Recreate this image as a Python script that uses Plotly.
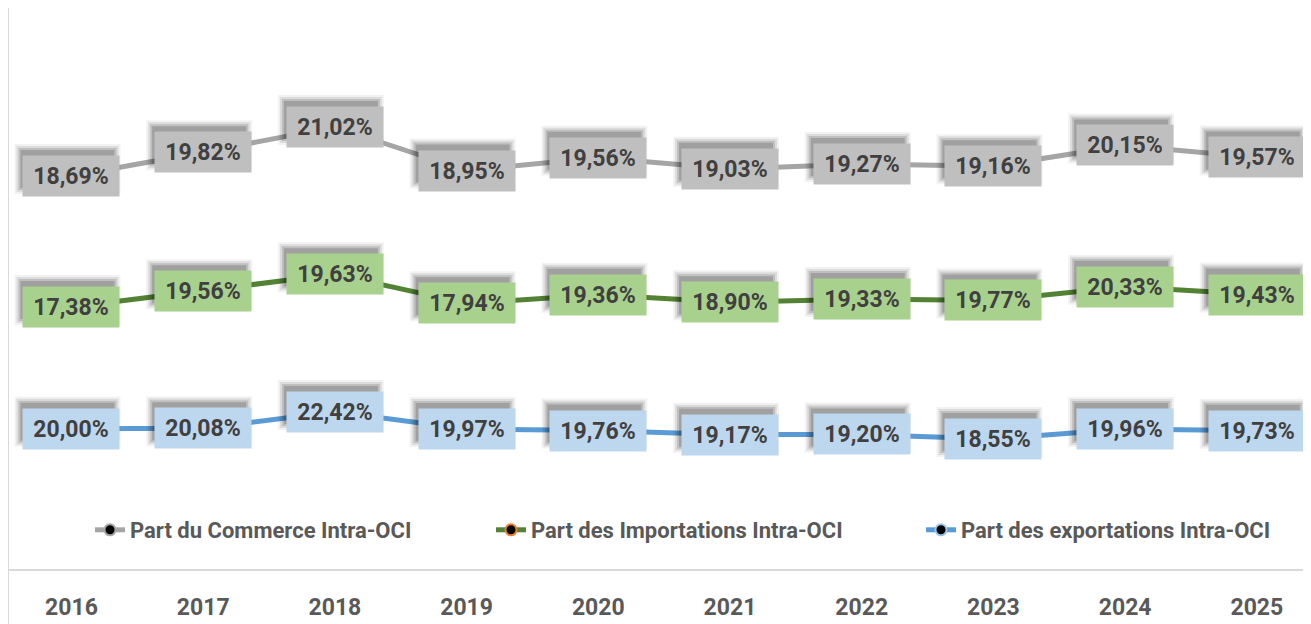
import plotly.graph_objects as go

years = ["2016", "2017", "2018", "2019", "2020", "2021", "2022", "2023", "2024", "2025"]
exports_share = [20.00, 20.08, 22.42, 19.97, 19.76, 19.17, 19.20, 18.55, 19.96, 19.73]
imports_share = [17.38, 19.56, 19.63, 17.94, 19.36, 18.90, 19.33, 19.77, 20.33, 19.43]
commerce_share = [18.69, 19.82, 21.02, 18.95, 19.56, 19.03, 19.27, 19.16, 20.15, 19.57]

series = [
    ("Part des exportations Intra-OCI", exports_share, "#5B9BD5", "#9DC3E6", "#BDD7EE", "legend3"),
    ("Part des Importations Intra-OCI", imports_share, "#548235", "#ED7D31", "#A9D18E", "legend2"),
    ("Part du Commerce Intra-OCI", commerce_share, "#A5A5A5", "#A5A5A5", "#BFBFBF", "legend"),
]

def fmt(v):
    return "<b>" + f"{v:.2f}".replace(".", ",") + "%</b>"

fig = go.Figure()
cum = [0.0] * len(years)
shadow_shapes = []
label_ann = []
for name, vals, lc, mc, bg, lg in series:
    fig.add_trace(go.Scatter(
        x=years, y=vals, name=f"<b>{name}</b>", stackgroup="s", fill="none",
        mode="lines+markers", legend=lg,
        line=dict(color=lc, width=5),
        marker=dict(color="black", size=11, line=dict(color=mc, width=2)),
        hoverinfo="skip",
    ))
    cum = [c + v for c, v in zip(cum, vals)]
    for i, (x, y, v) in enumerate(zip(years, cum, vals)):
        for (d, a) in [(5, 0.05), (3, 0.09), (1, 0.13), (-1, 0.16)]:
            shadow_shapes.append(dict(
                type="rect", xref="x", yref="y", xsizemode="pixel", ysizemode="pixel",
                xanchor=i, yanchor=y,
                x0=-48 - 4 - d, x1=48 - 4 + d, y0=-20 + 7 - d, y1=20 + 7 + d,
                fillcolor=f"rgba(0,0,0,{a})", line=dict(width=0), layer="above",
            ))
        label_ann.append(dict(
            x=i, y=y, xref="x", yref="y", text=fmt(v), showarrow=False,
            width=96, height=40, bgcolor=bg, borderpad=0,
            font=dict(family="Roboto", size=23, color="#404040"),
        ))

plot_h = 561
W = 1311
leg_y = (plot_h - 522) / plot_h
def leg(text_start):
    return dict(
        orientation="h", x=(text_start - 6 - 42) / W, xanchor="left", y=leg_y, yanchor="middle",
        font=dict(family="Roboto", size=22, color="#595959"),
        bgcolor="rgba(0,0,0,0)",
    )

fig.update_layout(
    width=W, height=624,
    margin=dict(l=0, r=0, t=0, b=624 - plot_h),
    paper_bgcolor="white", plot_bgcolor="white",
    showlegend=True,
    legend=leg(130), legend2=leg(531), legend3=leg(961),
    xaxis=dict(
        type="category", range=[-0.482, 9.472], showgrid=False, zeroline=False,
        showline=True, linecolor="#D9D9D9", linewidth=2, ticks="",
        tickvals=years, ticktext=[f"<b>{y}</b>" for y in years],
        tickfont=dict(family="Roboto", size=23, color="#595959"),
        ticklabelstandoff=16, automargin=False,
    ),
    yaxis=dict(range=[0, 80.05], visible=False, showgrid=False, zeroline=False, automargin=False),
    annotations=label_ann,
    shapes=shadow_shapes + [dict(type="line", xref="paper", yref="paper", x0=0, x1=0, y0=-0.2, y1=1,
                 line=dict(color="#D9D9D9", width=2))],
)

fig.write_html("out.html")
